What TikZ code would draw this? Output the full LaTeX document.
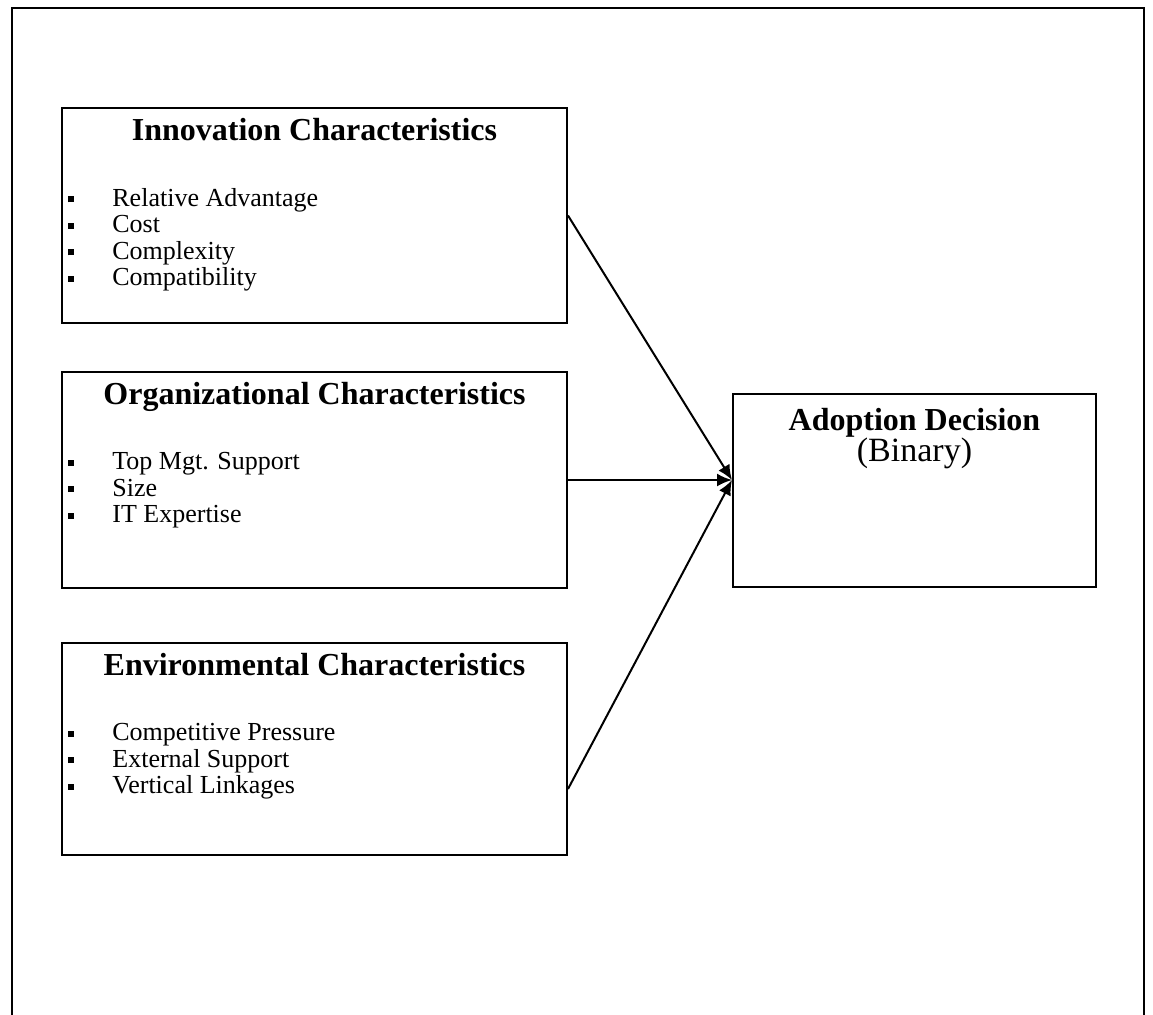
\documentclass[tikz,border=0pt]{standalone}
\usepackage{fontspec}
\setmainfont{Liberation Serif}
\usetikzlibrary{positioning}
\usetikzlibrary{arrows.meta}
\tikzset{
   panel/.style = {%
    draw,
    line width=1pt,
    inner sep=0pt,
    anchor=north west},
   head/.style = {%
    inner sep=0pt,
    text height=11pt, text depth=3pt,
    font=\fontsize{16}{16}\selectfont\bfseries},
  items/.style = {%
    inner sep=0pt,
    align=left,
    anchor=north west,
    font=\fontsize{13}{13.25}\selectfont},
   link/.style = {%
    line width=1pt,
    -{Latex[length=7.5pt,width=6.5pt]}},
    }
% square bullet followed by the item text
\newcommand{\sqitem}[1]{\makebox[22pt][l]{\raisebox{2pt}{\rule{3pt}{3pt}}}#1}

\begin{document}
\begin{tikzpicture}[x=0.5pt,y=-0.5pt]
    \useasboundingbox (0,0) rectangle (1153,1014);
    % open frame, runs off the bottom
    \draw[line width=1.2pt] (12,1030) -- (12,8) -- (1144,8) -- (1144,1030);

    % the three groups of factors
    \node[panel, minimum width=252.5pt, minimum height=107.5pt] (innov) at (61,107) {};
    \node[head, below=5.5pt of innov.north] (innovhead) {Innovation Characteristics};
    \node[items, below right=40.5pt and 3.5pt of innov.north west] (innovlist)
    {\sqitem{Relative Advantage}\\ \sqitem{Cost}\\ \sqitem{Complexity}\\ \sqitem{Compatibility}};

    \node[panel, minimum width=252.5pt, minimum height=108pt] (org) at (61,371) {};
    \node[head, below=5.5pt of org.north] (orghead) {Organizational Characteristics};
    \node[items, below right=40.5pt and 3.5pt of org.north west] (orglist)
    {\sqitem{Top Mgt. Support}\\ \sqitem{Size}\\ \sqitem{IT Expertise}};

    \node[panel, minimum width=252.5pt, minimum height=106pt] (env) at (61,642) {};
    \node[head, below=5.5pt of env.north] (envhead) {Environmental Characteristics};
    \node[items, below right=40.5pt and 3.5pt of env.north west] (envlist)
    {\sqitem{Competitive Pressure}\\ \sqitem{External Support}\\ \sqitem{Vertical Linkages}};

    % outcome
    \node[panel, minimum width=181.5pt, minimum height=96.5pt] (adopt) at (732,393) {};
    \node[head, below=7.5pt of adopt.north] (adopthead) {Adoption Decision};
    \node[inner sep=0pt, font=\fontsize{17}{17}\selectfont, below=0.5pt of adopthead] (adoptsub) {(Binary)};

    \coordinate (hub) at (adopt.west |- org.east);
    \draw[link] (innov.east) -- (hub);
    \draw[link] (org.east) -- (hub);
    \draw[link] ([yshift=-20pt]env.east) -- (hub);
\end{tikzpicture}
\end{document}
